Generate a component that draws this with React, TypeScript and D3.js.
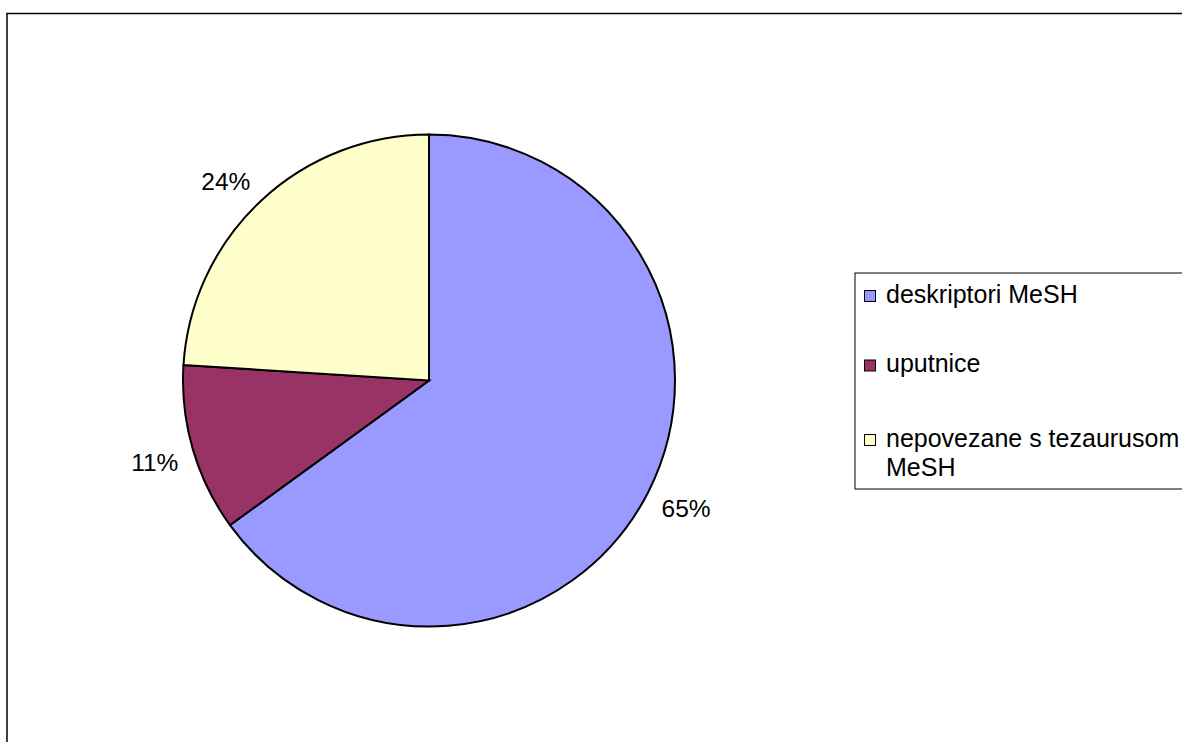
import React from "react";
import * as d3 from "d3";

const categories = ["deskriptori MeSH", "uputnice", "nepovezane s tezaurusom MeSH"];
const legendLines = [["deskriptori MeSH"], ["uputnice"], ["nepovezane s tezaurusom", "MeSH"]];
const values = [65, 11, 24];
const colors = ["#9999FF", "#993366", "#FFFFCC"];

const W = 1182;
const H = 742;
const cx = 429;
const cy = 380.5;
const R = 246;
const labelGap = 261; // distance from centre to nearest corner of label box
const FONT = "'Liberation Sans', Arial, sans-serif";
const LABEL_SIZE = 24.5;
const LEGEND_SIZE = 25;

function measure(text: string, size: number): number {
  if (typeof document === "undefined") return text.length * size * 0.6;
  const c = document.createElement("canvas").getContext("2d");
  if (!c) return text.length * size * 0.6;
  c.font = `${size}px 'Liberation Sans', Arial, sans-serif`;
  return c.measureText(text).width;
}

export default function App() {
  const total = d3.sum(values);
  const pie = d3.pie<number>().sort(null).value((d) => d)(values);
  const arc = d3.arc<d3.PieArcDatum<number>>().innerRadius(0).outerRadius(R);
  const fmt = d3.format(".0%");
  const capH = LABEL_SIZE * 0.716;

  const legendBaselines = [[302.5], [372], [446.5, 476]];
  const markerSize = 11;

  return (
    <svg
      width={W}
      height={H}
      style={{ position: "absolute", left: 0, top: 0, display: "block" }}
      fontFamily={FONT}
    >
      <rect x={0} y={0} width={W} height={H} fill="#fff" />
      <rect x={7} y={13.5} width={W + 50} height={H + 50} fill="#fff" stroke="#000" strokeWidth={1.5} />
      <g transform={`translate(${cx},${cy})`}>
        {pie.map((p, i) => (
          <path key={i} d={arc(p) || ""} fill={colors[i]} stroke="#000" strokeWidth={2} strokeLinejoin="miter" />
        ))}
        {pie.map((p, i) => {
          const label = fmt(values[i] / total);
          const a = (p.startAngle + p.endAngle) / 2;
          const sx = Math.sin(a);
          const sy = -Math.cos(a);
          const w = measure(label, LABEL_SIZE);
          const px = labelGap * sx;
          const py = labelGap * sy;
          const bx = px + Math.sign(sx) * w / 2;
          const by = py + Math.sign(sy) * capH / 2;
          return (
            <text key={"l" + i} x={bx} y={by + capH / 2} textAnchor="middle" fontSize={LABEL_SIZE} fill="#000">
              {label}
            </text>
          );
        })}
      </g>
      <rect x={855} y={273} width={400} height={216} fill="#fff" stroke="#000" strokeWidth={1} />
      {categories.map((c, i) => (
        <g key={c}>
          <rect
            x={864.5}
            y={legendBaselines[i][0] - markerSize - 1}
            width={markerSize}
            height={markerSize}
            fill={colors[i]}
            stroke="#000"
            strokeWidth={1}
          />
          {legendLines[i].map((line, j) => (
            <text key={j} x={886} y={legendBaselines[i][j]} fontSize={LEGEND_SIZE} fill="#000">
              {line}
            </text>
          ))}
        </g>
      ))}
    </svg>
  );
}
